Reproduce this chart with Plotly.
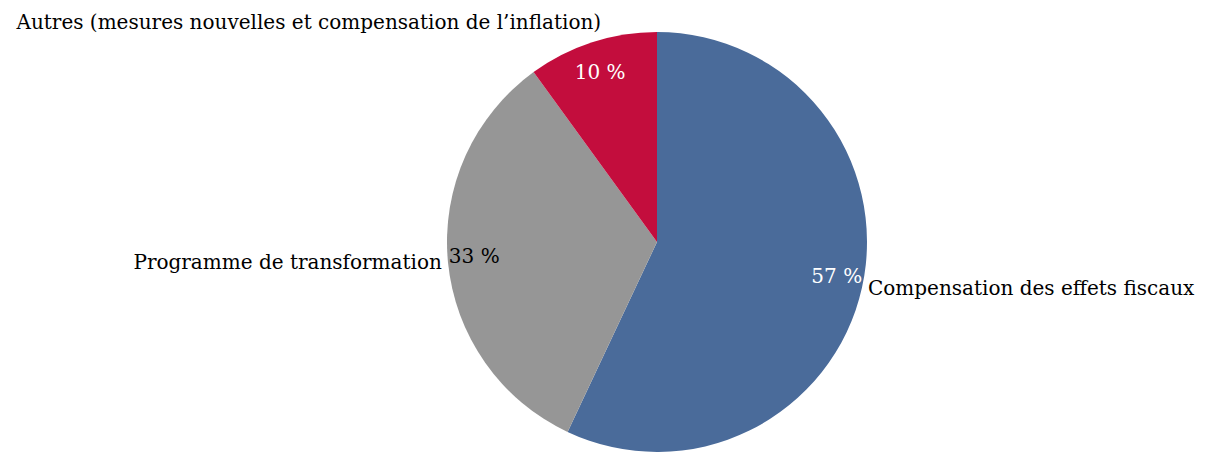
import plotly.graph_objects as go

categories = ["Compensation des effets fiscaux", "Programme de transformation",
              "Autres (mesures nouvelles et compensation de l’inflation)"]
values = [57, 33, 10]
colors = ["#4A6B9A", "#969696", "#C30D3D"]
pct_text_colors = ["white", "black", "white"]
pct_labels = [f"{v} %" for v in values]

W, H = 1212, 466
FONT = "DejaVu Serif, serif"
CLEAR = ["rgba(0,0,0,0)"] * 3

# page offset of 8px (body margin) compensated
cx, cy, R = 649, 234, 210


def dom(x, y, r):
    return dict(x=[(x - r) / W, (x + r) / W], y=[(H - y - r) / H, (H - y + r) / H])


def pie(domain, text, fill, font_colors):
    return go.Pie(
        labels=categories, values=values, sort=False, direction="clockwise",
        marker=dict(colors=fill, line=dict(width=0)),
        text=text, texttemplate="%{text}", textposition="outside",
        textfont=dict(family=FONT, size=20, color=font_colors),
        domain=domain, hoverinfo="skip", showlegend=False, automargin=False,
    )


fig = go.Figure()
# main pie with the two large category labels
fig.add_trace(pie(dom(cx, cy, R), [categories[0], categories[1], ""], colors, "black"))
# percentage labels placed just inside the rim
fig.add_trace(pie(dom(cx, cy, 152), [pct_labels[0], pct_labels[1], ""], CLEAR, pct_text_colors))
# small-slice labels (slightly offset placement, as in the reference)
fig.add_trace(pie(dom(cx + 15, cy - 9, R), ["", "", categories[2]], CLEAR, "black"))
fig.add_trace(pie(dom(cx + 24, cy - 7, 160), ["", "", pct_labels[2]], CLEAR, pct_text_colors))

fig.update_layout(width=W, height=H, margin=dict(l=0, r=0, t=0, b=0, autoexpand=False),
                  paper_bgcolor="white", plot_bgcolor="white", showlegend=False)
fig.write_html("out.html")
